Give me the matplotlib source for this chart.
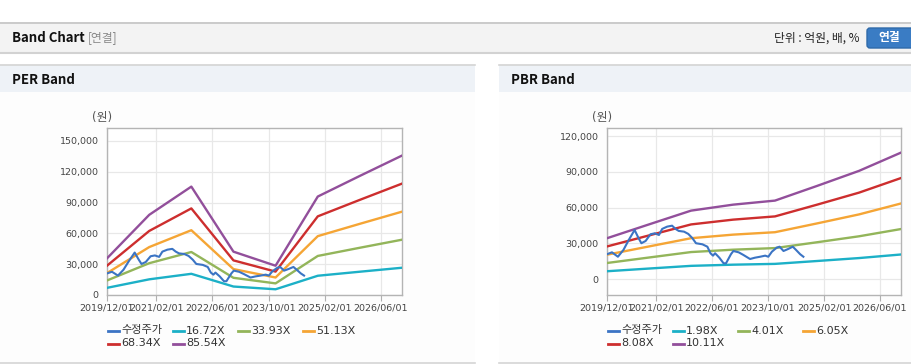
import matplotlib.pyplot as plt
import matplotlib.dates as mdates
import numpy as np
from matplotlib.patches import Rectangle, FancyBboxPatch

plt.rcParams['font.family'] = ['DejaVu Sans', 'Noto Sans CJK KR']

# yearly band anchors (December of each year)
band_dates = np.array(['2019-12-01', '2020-12-01', '2021-12-01', '2022-12-01',
                       '2023-12-01', '2024-12-01', '2025-12-01', '2026-12-01'], dtype='datetime64[D]')

per_labels = ['16.72X', '33.93X', '51.13X', '68.34X', '85.54X']
per_16 = [6970, 15250, 20620, 8240, 5570, 18730, 22660, 26520]
per_33 = [14150, 30940, 41840, 16730, 11300, 38000, 45980, 53810]
per_51 = [21320, 46630, 63040, 25210, 17030, 57270, 69280, 81090]
per_68 = [28500, 62330, 84260, 33690, 22760, 76540, 92600, 108390]
per_85 = [35670, 78010, 105470, 42170, 28490, 95810, 115910, 135670]

pbr_labels = ['1.98X', '4.01X', '6.05X', '8.08X', '10.11X']
pbr_1 = [6740, 9010, 11260, 12240, 12910, 15320, 17780, 20780]
pbr_4 = [13650, 18250, 22810, 24790, 26140, 31020, 36010, 42090]
pbr_6 = [20590, 27530, 34410, 37400, 39430, 46800, 54340, 63500]
pbr_8 = [27500, 36760, 45950, 49950, 52670, 62500, 72570, 84800]
pbr_10 = [34400, 46000, 57500, 62500, 65900, 78200, 90800, 106100]

# adjusted price (수정주가)
price_dates = np.array([
    '2019-12-01', '2020-01-13', '2020-03-05', '2020-04-22', '2020-06-07', '2020-07-28',
    '2020-09-01', '2020-09-25', '2020-11-01', '2020-12-13', '2021-01-19', '2021-02-25',
    '2021-03-25', '2021-05-07', '2021-06-19', '2021-07-19', '2021-08-16', '2021-10-01',
    '2021-11-07', '2021-12-13', '2022-01-13', '2022-03-10', '2022-04-22', '2022-05-19',
    '2022-06-10', '2022-06-28', '2022-08-04', '2022-09-10', '2022-10-01', '2022-11-13',
    '2022-12-04', '2023-01-19', '2023-03-01', '2023-04-28', '2023-06-10', '2023-07-25',
    '2023-09-07', '2023-10-04', '2023-11-04', '2023-12-16', '2024-01-10', '2024-02-13',
    '2024-03-25', '2024-05-04', '2024-06-01', '2024-07-07', '2024-08-04'], dtype='datetime64[D]')
price = [21000, 22600, 18900, 24600, 32900, 41300,
         34400, 30200, 32100, 37700, 38500, 37100,
         42200, 44100, 44900, 42200, 40500, 39900,
         38000, 34400, 30200, 29300, 27300, 21800,
         19800, 21800, 18100, 13400, 13400, 21000,
         23700, 22600, 20400, 17000, 18100, 18900,
         19800, 18900, 23100, 26500, 27300, 23700,
         25400, 27300, 24600, 21000, 18900]

tick_dates = np.array(['2019-12-01', '2021-02-01', '2022-06-01', '2023-10-01',
                       '2025-02-01', '2026-06-01'], dtype='datetime64[D]')

colors = ['#3b74c4', '#1cb0c7', '#93b55a', '#f5a535', '#cd2e2e', '#924f9b']

W, H = 912, 364
fig = plt.figure(figsize=(W / 100, H / 100), dpi=100)
fig.patch.set_facecolor('white')

# page chrome drawn in pixel coordinates
bg = fig.add_axes([0, 0, 1, 1])
bg.set_xlim(0, W)
bg.set_ylim(H, 0)
bg.axis('off')
bg.add_patch(Rectangle((0, 22), W, 31, facecolor='#f3f3f3', edgecolor='none'))
bg.plot([0, W], [22.5, 22.5], color='#c4c4c4', lw=1.2)
bg.plot([0, W], [53, 53], color='#d2d2d2', lw=1.5)
bg.text(12, 38, 'Band Chart', family='Noto Sans CJK KR', fontweight='bold', fontsize=9.5,
        va='center', color='#111')
bg.text(88, 38, '[연결]', family='Noto Sans CJK KR', fontsize=8.5, va='center', color='#888')
bg.text(860, 38, '단위 : 억원, 배, %', family='Noto Sans CJK KR', fontsize=8.5, va='center',
        ha='right', color='#222')
bg.add_patch(FancyBboxPatch((867, 28), 60, 20, boxstyle='round,pad=0,rounding_size=3',
                            facecolor='#3a7cc4', edgecolor='#2f6aa9'))
bg.text(889, 38, '연결', family='Noto Sans CJK KR', fontweight='bold', fontsize=8.5,
        va='center', ha='center', color='white')

for x0, x1, title in [(0, 475, 'PER Band'), (499, W, 'PBR Band')]:
    bg.add_patch(Rectangle((x0, 64), x1 - x0, 298, facecolor='#fdfdfd', edgecolor='none'))
    bg.add_patch(Rectangle((x0, 65), x1 - x0, 27, facecolor='#eef2f7', edgecolor='none'))
    bg.plot([x0, x1], [64.5, 64.5], color='#d4d4d4', lw=1.2)
    bg.plot([x0, x1], [362.5, 362.5], color='#d4d4d4', lw=1.2)
    bg.text(x0 + 12, 80, title, family='Noto Sans CJK KR', fontweight='bold', fontsize=9.5,
            va='center', color='#111')


def band_chart(left_px, right_px, bands, labels, ylim, yticks):
    ax = fig.add_axes([left_px / W, 1 - 295 / H, (right_px - left_px) / W, 167 / H])
    ax.set_facecolor('white')
    ax.plot(price_dates, price, color=colors[0], lw=1.5, zorder=5)
    for vals, c in zip(bands, colors[1:]):
        ax.plot(band_dates, vals, color=c, lw=1.7, zorder=4)
    ax.set_xlim(np.datetime64('2019-12-01'), np.datetime64('2026-12-01'))
    ax.set_ylim(*ylim)
    ax.set_xticks(tick_dates)
    ax.xaxis.set_major_formatter(mdates.DateFormatter('%Y/%m/%d'))
    ax.set_yticks(yticks)
    ax.set_yticklabels([f'{v:,}' for v in yticks])
    ax.tick_params(axis='x', length=4, color='#b0b0b0', labelsize=6.8, labelcolor='#444', pad=2)
    ax.tick_params(axis='y', length=0, labelsize=6.8, labelcolor='#444', pad=6)
    ax.grid(True, color='#e8e8e8', lw=0.9)
    ax.set_axisbelow(True)
    for s in ax.spines.values():
        s.set_color('#b4b4b4')
        s.set_linewidth(1)
    bg.text(left_px - 5, 118, '(원)', fontsize=8.5, color='#555', ha='center', va='center')
    # legend, laid out like the original in fixed-width columns
    names = ['수정주가'] + labels
    for i, (name, c) in enumerate(zip(names, colors)):
        row, col = divmod(i, 4)
        lx = left_px + 1 + col * 65
        ly = 330.5 + row * 13
        bg.plot([lx, lx + 11], [ly, ly], color=c, lw=2)
        bg.text(lx + 13, ly, name, fontsize=8, color='#333', va='center')
    return ax


band_chart(107, 402, [per_16, per_33, per_51, per_68, per_85], per_labels,
           (0, 162500), [0, 30000, 60000, 90000, 120000, 150000])
band_chart(607, 901, [pbr_1, pbr_4, pbr_6, pbr_8, pbr_10], pbr_labels,
           (-13150, 126700), [0, 30000, 60000, 90000, 120000])

fig.savefig('out.png', dpi=100)
